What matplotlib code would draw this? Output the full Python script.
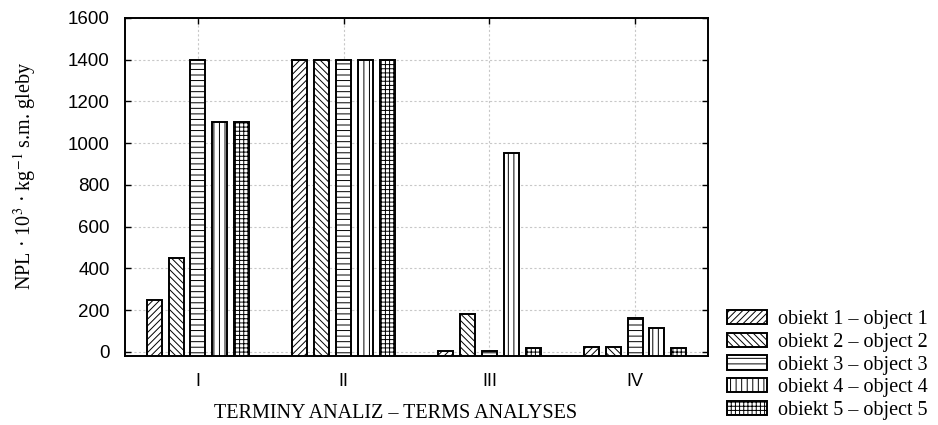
import matplotlib
matplotlib.use("Agg")
import matplotlib.pyplot as plt
import numpy as np

terms = ["I", "II", "III", "IV"]
series_labels = ["obiekt 1 – object 1", "obiekt 2 – object 2", "obiekt 3 – object 3",
                 "obiekt 4 – object 4", "obiekt 5 – object 5"]
obj1 = [250, 1400, 5, 25]
obj2 = [450, 1400, 183, 25]
obj3 = [1400, 1400, 5, 160]
obj4 = [1100, 1400, 955, 115]
obj5 = [1100, 1400, 20, 20]
series = [obj1, obj2, obj3, obj4, obj5]
hatches = ["/////", "\\\\\\\\\\", "---", "|||", "++++"]
yticks = [0, 200, 400, 600, 800, 1000, 1200, 1400, 1600]

plt.rcParams["hatch.linewidth"] = 0.7
plt.rcParams["mathtext.fontset"] = "stix"

fig = plt.figure(figsize=(9.38, 4.25), dpi=100)
ax = fig.add_axes([125/938, 1-356/425, (708-125)/938, (356-18)/425])

ymin = -20
x = np.arange(len(terms))
step = 0.15
width = 0.103
handles = []
for i, (vals, h) in enumerate(zip(series, hatches)):
    vals = np.array(vals, dtype=float)
    b = ax.bar(x + (i - 2) * step, vals - ymin, bottom=ymin, width=width,
               color="white", edgecolor="black", linewidth=1.4, hatch=h,
               label=series_labels[i], zorder=3)
    handles.append(b)

ax.set_xlim(-0.5, 3.5)
ax.set_ylim(ymin, 1600)
ax.set_xticks(x)
ax.set_xticklabels(terms, fontfamily="Liberation Sans", fontsize=13)
ax.set_yticks(yticks)
ax.set_yticklabels([str(v) for v in yticks], fontfamily="Liberation Sans", fontsize=13.5)
ax.tick_params(axis="both", direction="in", length=4, width=1, top=True, right=True)
ax.tick_params(axis="y", pad=11)
ax.tick_params(axis="x", pad=12)
ax.grid(True, color="#c8c8c8", linestyle=(0, (2, 2)), linewidth=0.8, zorder=0)
for s in ax.spines.values():
    s.set_linewidth(1.4)

fig.text(396/938, 1-414/425, "TERMINY ANALIZ – TERMS ANALYSES", ha="center", va="center",
         fontfamily="Liberation Serif", fontsize=14.5)
fig.text(25/938, 1-176/425, r"NPL · 10$^{3}$ · kg$^{-1}$ s.m. gleby", rotation=90,
         ha="center", va="center", fontfamily="Liberation Serif", fontsize=14.5)

leg = fig.legend(handles=handles, labels=series_labels, loc="upper left",
                 bbox_to_anchor=(727/938, 1-310/425), frameon=False,
                 prop={"family": "Liberation Serif", "size": 14.5},
                 handlelength=2.0, handleheight=0.7, labelspacing=0.18,
                 handletextpad=0.55, borderaxespad=0, borderpad=0)

fig.savefig("out.png", dpi=100)
